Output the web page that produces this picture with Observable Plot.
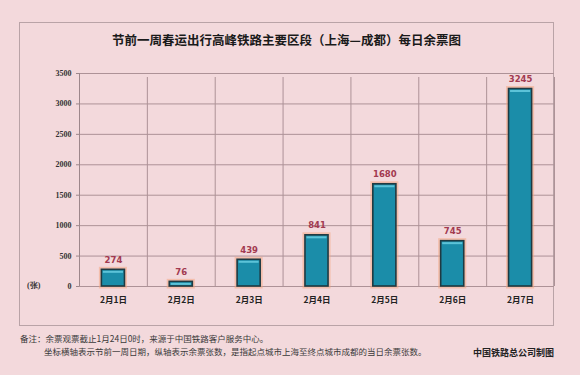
<!DOCTYPE html>
<html>
<head>
<meta charset="utf-8">
<script src="https://cdn.jsdelivr.net/npm/d3@7"></script>
<script src="https://cdn.jsdelivr.net/npm/@observablehq/plot@0.6"></script>
<style>
  html, body { margin: 0; padding: 0; background: #f3d9dc; }
  #wrap { position: relative; width: 580px; height: 375px; overflow: hidden;
          background: #f3d9dc; font-family: "Noto Sans CJK SC", sans-serif; }
  #frame { position: absolute; left: 19px; top: 22px; width: 535px; height: 304px;
           border: 1px solid #b9a3a7; box-sizing: border-box; }
  #title { position: absolute; left: 19px; width: 535px; top: 30px; text-align: center;
           font-size: 12.5px; font-weight: bold; color: #1a1a1a; }
  #chart { position: absolute; left: 0; top: 60px; }
  #unit { position: absolute; left: 27px; top: 280px; font-family: "Liberation Serif", serif;
          font-weight: bold; font-size: 8px; color: #333; }
  .note { position: absolute; font-size: 8.5px; color: #3a3a3a; white-space: nowrap; }
  #credit { position: absolute; right: 26px; top: 346px; font-size: 9px; font-weight: bold; color: #222; }
</style>
</head>
<body>
<div id="wrap">
  <div id="frame"></div>
  <div id="title"></div>
  <div id="chart"></div>
  <div id="unit">(张)</div>
  <div class="note" id="note1" style="left:20px; top:332px;"></div>
  <div class="note" id="note2" style="left:44px; top:345px;"></div>
  <div id="credit"></div>
</div>
<script>
const title = "节前一周春运出行高峰铁路主要区段（上海—成都）每日余票图";
const dates = ["2月1日", "2月2日", "2月3日", "2月4日", "2月5日", "2月6日", "2月7日"];
const tickets = [274, 76, 439, 841, 1680, 745, 3245];
const yTicks = [0, 500, 1000, 1500, 2000, 2500, 3000, 3500];
const note1 = "备注：余票观票截止1月24日0时，来源于中国铁路客户服务中心。";
const note2 = "坐标横轴表示节前一周日期，纵轴表示余票张数，是指起点城市上海至终点城市成都的当日余票张数。";
const credit = "中国铁路总公司制图";

document.getElementById("title").textContent = title;
document.getElementById("note1").textContent = note1;
document.getElementById("note2").textContent = note2;
document.getElementById("credit").textContent = credit;

const data = dates.map((d, i) => ({date: d, pos: i + 0.5, value: tickets[i]}));
const halfBar = 0.17;
const boundaries = d3.range(0, dates.length + 1);
const axisZero = [0];

const plot = Plot.plot({
  width: 580,
  height: 250,
  marginLeft: 79,
  marginRight: 26,
  marginTop: 13,
  marginBottom: 24,
  style: { background: "transparent" },
  x: { type: "linear", domain: [0, dates.length], axis: null },
  y: { type: "linear", domain: [0, 3500], axis: null },
  marks: [
    Plot.ruleY(yTicks, { y: d => d, stroke: "#ad9297", strokeWidth: 1 }),
    Plot.ruleX(boundaries, { x: d => d, y1: () => 0, y2: () => 3500, stroke: "#ad9297", strokeWidth: 1, insetBottom: -4 }),
    Plot.ruleX(axisZero, { x: d => d, y1: () => 0, y2: () => 3500, stroke: "#9d878b", strokeWidth: 1 }),
    Plot.ruleY(yTicks, { y: d => d, x1: () => 0, x2: () => 0, insetLeft: -3, stroke: "#9d878b" }),
    Plot.text(yTicks, { x: () => 0, y: d => d, text: d => String(d), textAnchor: "end", dx: -8,
      fontFamily: "Liberation Serif, serif", fontWeight: "bold", fontSize: 8, fill: "#333" }),
    Plot.rect(data, { x1: d => d.pos - halfBar, x2: d => d.pos + halfBar, y1: () => 0, y2: d => d.value,
      fill: "none", stroke: "#f5a37c", strokeWidth: 5, strokeOpacity: 0.5 }),
    Plot.rect(data, { x1: d => d.pos - halfBar, x2: d => d.pos + halfBar, y1: () => 0, y2: d => d.value,
      fill: "#1b8da9", stroke: "#1f3a42", strokeWidth: 1.6 }),
    Plot.ruleY(data, { y: d => d.value, x1: d => d.pos - halfBar, x2: d => d.pos + halfBar,
      dy: 2, insetLeft: 1.5, insetRight: 1.5, stroke: "#5cc3d8", strokeWidth: 2 }),
    Plot.text(data, { x: d => d.pos, y: d => d.value, text: d => String(d.value), dy: -10,
      fill: "#a23a50", fontWeight: "bold", fontSize: 8.5, fontFamily: "DejaVu Sans, sans-serif" }),
    Plot.text(data, { x: d => d.pos, y: () => 0, text: d => d.date, dy: 14,
      fill: "#222", fontWeight: "bold", fontSize: 8.5, fontFamily: "Noto Sans CJK SC, sans-serif" })
  ]
});
document.getElementById("chart").appendChild(plot);
</script>
</body>
</html>
